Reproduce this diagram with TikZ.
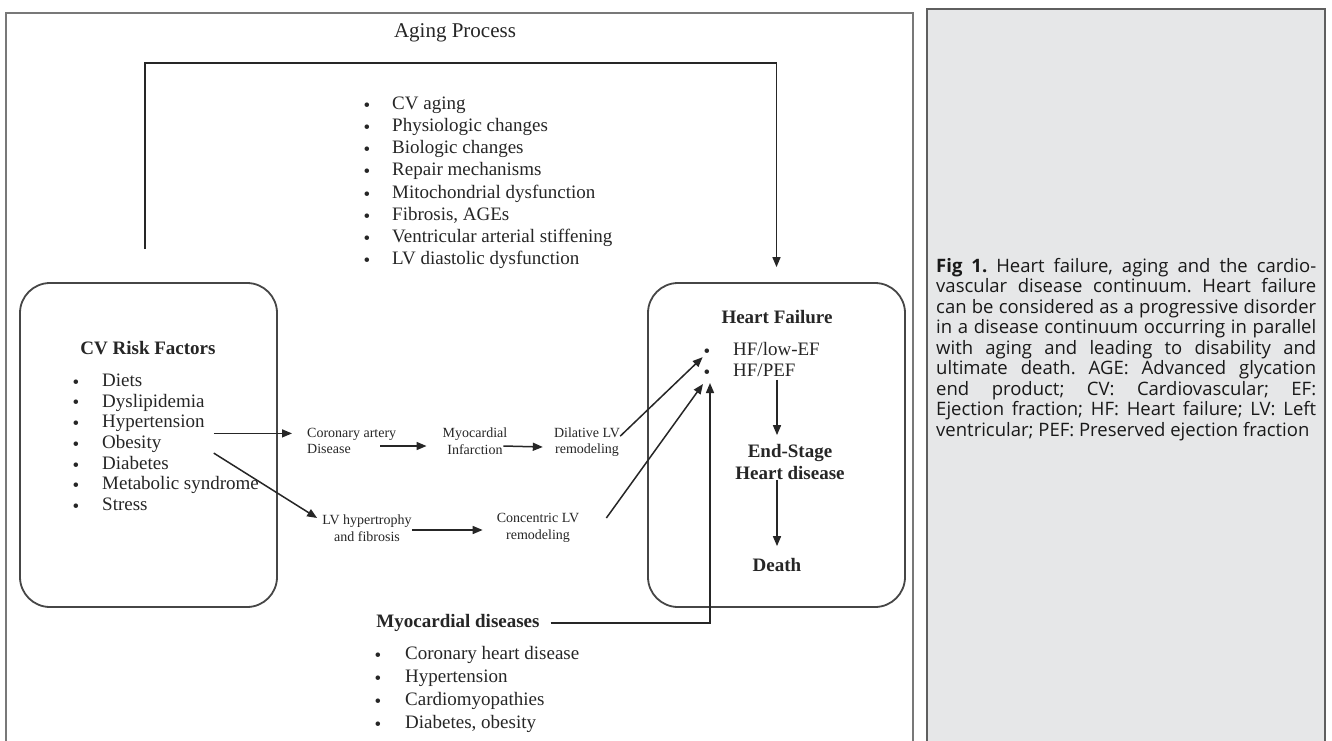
\documentclass[tikz,border=0pt]{standalone}
\usepackage{fontspec}
\setmainfont{Liberation Serif}
\newfontfamily\capfont{Open Sans}
\usetikzlibrary{arrows.meta,positioning}
\definecolor{figink}{RGB}{38,38,38}
\definecolor{boxline}{RGB}{70,70,70}
\definecolor{panelline}{RGB}{120,120,120}
\definecolor{capfill}{RGB}{230,231,232}
\definecolor{capline}{RGB}{95,95,95}
\tikzset{
  rbox/.style={draw=boxline,line width=1.8pt,rounded corners=30pt,minimum width=257pt,
               minimum height=324pt,inner sep=0pt},
  listitem/.style={font=\fontsize{19}{22}\selectfont,text=figink,inner sep=0pt,anchor=mid west},
  bul/.style={font=\fontsize{19}{22}\selectfont,text=figink,inner sep=0pt},
  boldhead/.style={font=\fontsize{19}{22}\selectfont\bfseries,text=figink,inner sep=0pt,align=center},
  stage/.style={font=\fontsize{14}{16.5}\selectfont,text=figink,inner sep=0pt,align=center},
  arr/.style={-{Triangle[length=10pt,width=8pt]},draw=figink,line width=1.5pt},
}

\begin{document}
\begin{tikzpicture}[x=1pt,y=-1pt]
\useasboundingbox (0,0) rectangle (1332,740);
\fill[white] (0,0) rectangle (1332,740);

% ============ panels ============
\draw[panelline,line width=1.3pt] (6,746) -- (6,13) -- (913,13) -- (913,746);
\draw[capline,fill=capfill,line width=1.2pt] (927,9) rectangle (1325,748);

% ============ aging process ============
\node[font=\fontsize{21}{24}\selectfont,text=figink] (aging) at (455,33) {Aging Process};
\foreach \i/\txt in {0/CV aging, 1/Physiologic changes, 2/Biologic changes,
  3/Repair mechanisms, 4/Mitochondrial dysfunction, 5/{Fibrosis, AGEs},
  6/Ventricular arterial stiffening, 7/LV diastolic dysfunction} {
  \node[bul] (agb\i) at (367,107+22.2*\i) {\textbullet};
  \node[listitem] (ag\i) at (392,107+22.2*\i) {\txt};
}

% ============ risk factors ============
\node[rbox] (cvbox) at (148.5,445) {};
\node[boldhead] (cvtitle) at (148,348) {CV Risk Factors};
\foreach \i/\txt in {0/Diets, 1/Dyslipidemia, 2/Hypertension, 3/Obesity,
  4/Diabetes, 5/Metabolic syndrome, 6/Stress} {
  \node[bul] (rfb\i) at (76,384+20.7*\i) {\textbullet};
  \node[listitem] (rf\i) at (102,384+20.7*\i) {\txt};
}

% ============ heart failure ============
\node[rbox] (hfbox) at (776.5,445) {};
\node[boldhead] (hftitle) at (777,317) {Heart Failure};
\node[bul] (hfb1) at (707,353) {\textbullet};
\node[bul] (hfb2) at (707,374) {\textbullet};
\node[listitem] (hflow) at (733,353) {HF/low-EF};
\node[listitem] (hfpef) at (733,374) {HF/PEF};
\node[boldhead] (esd) at (790,462) {End-Stage\\Heart disease};
\node[boldhead] (death) at (777,565) {Death};

% ============ remodeling path ============
\node[stage,align=left,anchor=west] (cad) at (307,441) {Coronary artery\\Disease};
\node[stage] (mi) at (475,441) {Myocardial\\Infarction};
\node[stage] (dlv) at (587,442) {Dilative LV\\remodeling};
\node[stage] (lvh) at (367,528) {LV hypertrophy\\and fibrosis};
\node[stage] (clv) at (538,528) {Concentric LV\\remodeling};

% ============ myocardial diseases ============
\node[boldhead] (myo) at (458,623) {Myocardial diseases};
\foreach \i/\txt in {0/Coronary heart disease, 1/Hypertension, 2/Cardiomyopathies,
  3/{Diabetes, obesity}} {
  \node[bul] (mdb\i) at (378,657+23*\i) {\textbullet};
  \node[listitem] (md\i) at (405,657+23*\i) {\txt};
}

% ============ connectors ============
\coordinate (agestart) at (145,249);
\coordinate (agecorner) at (145,63);
\draw[arr] (agestart) -- (agecorner) -| ([yshift=15pt]hfbox.north);

\path ([xshift=9pt,yshift=-8pt]rf2.mid east) coordinate (hs)
      ([yshift=-7pt]rf3.mid east) coordinate (os);
\draw[arr,shorten >=15pt] (hs) -- (hs -| cad.west);
\draw[arr] (os -| hs) -- ([xshift=-5pt,yshift=10pt]lvh.west);
\draw[arr] ([xshift=-16pt,yshift=-5pt]cad.east) -- ([xshift=-16pt,yshift=-5pt]mi.west);
\draw[arr] ([xshift=-4pt,yshift=-5pt]mi.east) -- ([xshift=-11pt,yshift=-5pt]dlv.west);
\draw[arr] ([yshift=-2pt]lvh.east) -- ([xshift=-14pt,yshift=-2pt]clv.west);
\draw[arr,shorten >=6pt] ([yshift=-9pt]dlv.north east) -- (hfb1.center);
\draw[arr] ([xshift=27pt,yshift=10pt]clv.east) -- ([xshift=-4pt,yshift=-10pt]hfb2.center);
\draw[arr] ([xshift=11pt]myo.east) -| ([xshift=3pt,yshift=-9pt]hfb2.center);
\draw[arr,shorten <=3pt,shorten >=9pt] (hftitle.south |- hfpef.south) -- (hftitle.south |- esd.north);
\draw[arr,shorten >=12pt] (hftitle.south |- esd.south) -- (hftitle.south |- death.north);

% ============ caption ============
\node[anchor=north west,text width=380pt,align=justify,inner sep=0pt,
      font=\capfont\fontsize{18.5}{20.5}\selectfont,text=black!90] (caption) at (936,258)
  {\frenchspacing\tolerance=9999\hbadness=10000\textbf{Fig 1.} Heart failure, aging and the cardio-\linebreak
   vascular disease continuum. Heart failure\linebreak
   can be considered as a progressive disorder\linebreak
   in a disease continuum occurring in parallel\linebreak
   with aging and leading to disability and\linebreak
   ultimate death. AGE: Advanced glycation\linebreak
   end product; CV: Cardiovascular; EF:\linebreak
   Ejection fraction; HF: Heart failure; LV: Left\linebreak
   ventricular; PEF: Preserved ejection fraction};
\end{tikzpicture}
\end{document}
